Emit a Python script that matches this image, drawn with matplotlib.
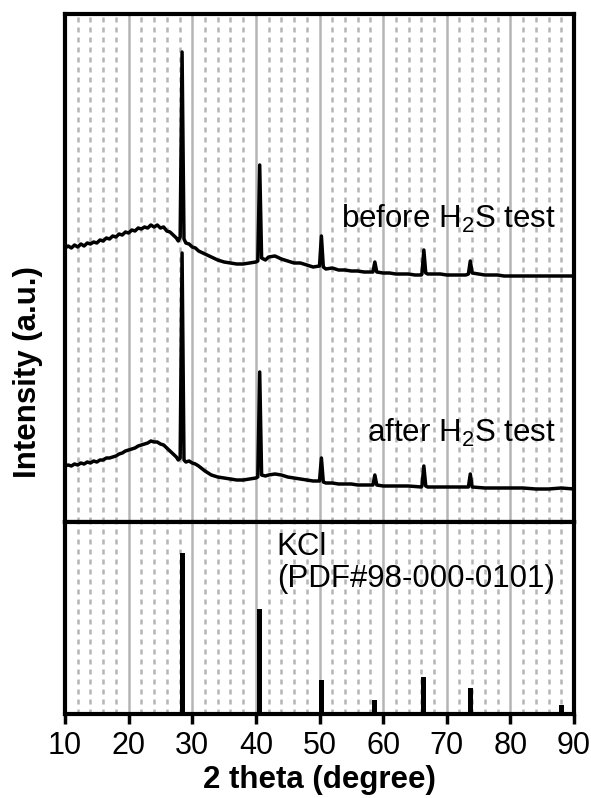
import numpy as np
import matplotlib
matplotlib.use('Agg')
import matplotlib.pyplot as plt
from matplotlib.ticker import MultipleLocator

plt.rcParams['font.family'] = ['Liberation Sans', 'DejaVu Sans']
plt.rcParams['mathtext.fontset'] = 'custom'
plt.rcParams['mathtext.rm'] = 'Liberation Sans'
plt.rcParams['mathtext.it'] = 'Liberation Sans'

# XRD pattern before H2S test (2 theta, intensity a.u.)
before_x = [10, 10.5, 11, 11.5, 12, 12.5, 13, 13.5, 14, 14.5, 15, 15.5, 16, 16.5, 17, 17.5, 18, 18.5,
            19, 19.5, 20, 20.5, 21, 21.5, 22, 22.5, 23, 23.5, 24, 24.5, 25, 25.5, 26, 26.5, 27, 27.5,
            27.8, 28.1, 28.4, 28.7, 29, 29.5, 30, 30.5, 31, 32, 33, 34, 35, 36, 37, 38, 39, 40, 40.3,
            40.6, 40.9, 41.5, 42, 43, 44, 45, 46, 47, 48, 49, 50, 50.3, 50.6, 51, 52, 53, 54, 55, 56,
            57, 58, 58.4, 58.7, 59, 60, 61, 62, 63, 64, 65, 66, 66.1, 66.4, 66.7, 67, 68, 69, 70, 71,
            72, 73, 73.4, 73.7, 74, 75, 76, 77, 78, 79, 80, 82, 84, 86, 88, 90]
before_y = [274, 276, 274, 277, 275, 278, 276, 279, 278, 280, 279, 282, 281, 284, 283, 286, 285, 288,
            287, 290, 289, 292, 291, 294, 293, 295, 294, 297, 295, 297, 294, 295, 291, 290, 287, 284,
            281, 285, 470, 283, 279, 278, 275, 274, 271, 268, 265, 262, 260, 259, 258, 258, 259, 260, 261,
            357, 264, 262, 265, 266, 263, 261, 259, 259, 257, 255, 256, 286, 255, 253, 254, 252, 252, 251, 251,
            250, 250, 250, 260, 250, 249, 249, 248, 248, 248, 247, 247, 248, 272, 249, 248, 248, 248, 247, 247,
            247, 247, 248, 261, 249, 248, 247, 247, 247, 246, 246, 246, 246, 246, 246, 246]

# XRD pattern after H2S test
after_x = [10, 10.5, 11, 11.5, 12, 12.5, 13, 13.5, 14, 14.5, 15, 15.5, 16, 16.5, 17, 17.5, 18, 18.5,
           19, 19.5, 20, 20.5, 21, 21.5, 22, 22.5, 23, 23.5, 24, 24.5, 25, 25.5, 26, 26.5, 27, 27.5,
           27.8, 28.1, 28.4, 28.7, 29, 29.5, 30, 30.5, 31, 32, 33, 34, 35, 36, 37, 38, 39, 40, 40.3,
           40.6, 40.9, 41.5, 42, 43, 44, 45, 46, 47, 48, 49, 50, 50.3, 50.6, 51, 52, 53, 54, 55, 56,
           57, 58, 58.4, 58.7, 59, 60, 62, 64, 66, 66.1, 66.4, 66.7, 67, 68, 70, 72, 73.4, 73.7, 74,
           76, 78, 80, 82, 84, 86, 88, 90]
after_y = [56, 57, 56, 58, 57, 59, 58, 60, 59, 61, 60, 62, 62, 64, 64, 65, 66, 68,
           69, 71, 72, 73, 74, 76, 77, 78, 79, 81, 80, 80, 78, 77, 74, 71, 68, 65,
           62, 64, 269, 62, 60, 61, 59, 58, 56, 51, 47, 45, 44, 43, 42, 42, 43, 44, 45,
           150, 47, 46, 47, 48, 47, 45, 44, 43, 42, 41, 41, 64, 40, 39, 39, 38, 38, 38, 37,
           37, 37, 37, 47, 37, 36, 36, 36, 35, 36, 56, 36, 35, 35, 35, 35, 35, 48, 35,
           34, 34, 34, 34, 33, 33, 34, 33]

# KCl reference (PDF#98-000-0101)
kcl_pos = [28.4, 40.6, 50.3, 58.7, 66.4, 73.7, 88.0]
kcl_int = [100, 65, 21, 9, 23, 16, 5.6]

grid_col = '#b5b5b5'
fig = plt.figure(figsize=(5.91, 7.98), dpi=100)
ax1 = fig.add_axes([65 / 591, 1 - 522 / 798, 509 / 591, 508 / 798])
ax2 = fig.add_axes([65 / 591, 1 - 714 / 798, 509 / 591, 192 / 798], sharex=ax1)

for ax in (ax1, ax2):
    ax.set_xlim(10, 90)
    ax.xaxis.set_major_locator(MultipleLocator(10))
    ax.xaxis.set_minor_locator(MultipleLocator(2))
    ax.grid(True, which='major', axis='x', color=grid_col, lw=1.8, ls='-')
    ax.grid(True, which='minor', axis='x', color=grid_col, lw=1.8, ls=(0, (2, 2)))
    ax.set_axisbelow(True)
    for s in ax.spines.values():
        s.set_linewidth(3)
    ax.set_yticks([])

ax1.plot(before_x, before_y, color='black', lw=2.5)
ax1.plot(after_x, after_y, color='black', lw=2.5)
ax1.set_ylim(0, 508)
ax1.tick_params(axis='x', which='both', bottom=False, labelbottom=False)
ax1.text(87.2, 294, r'before H$_2$S test', fontsize=22.5, ha='right', va='baseline')
ax1.text(87.2, 80, r'after H$_2$S test', fontsize=22.5, ha='right', va='baseline')

ax2.bar(kcl_pos, kcl_int, width=0.8, color='black')
ax2.set_ylim(0, 119.4)
ax2.tick_params(axis='x', which='major', direction='out', length=7, width=2.5, labelsize=22, pad=5)
ax2.tick_params(axis='x', which='minor', length=0)
ax2.text(43.3, 0.95, 'KCl\n(PDF#98-000-0101)', fontsize=22.5, ha='left', va='top',
         linespacing=1.12, transform=ax2.get_xaxis_transform())
ax2.set_xlabel('2 theta (degree)', fontsize=22.5, fontweight='bold', labelpad=3)

fig.text(28 / 591, 1 - 372 / 798, 'Intensity (a.u.)', fontsize=22.5, fontweight='bold',
         rotation=90, ha='center', va='center')

fig.savefig('out.png', dpi=100)
